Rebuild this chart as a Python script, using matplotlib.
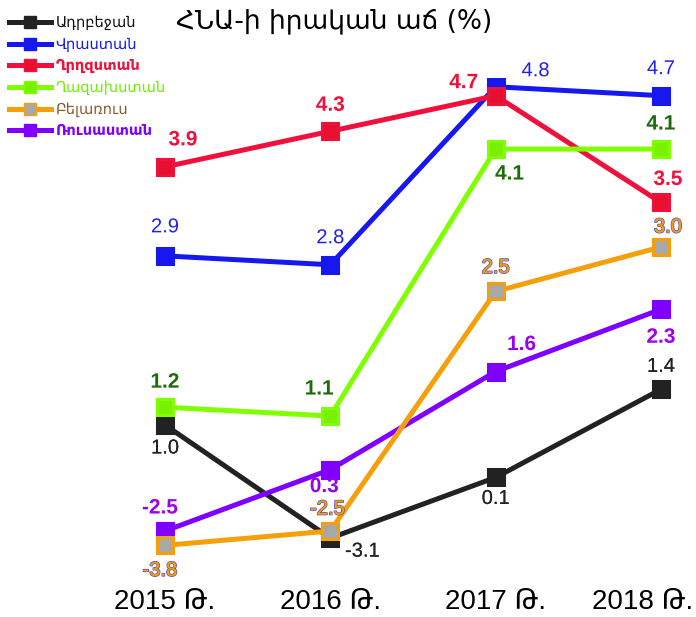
import numpy as np
import matplotlib.pyplot as plt
import matplotlib.patheffects as pe
import matplotlib.transforms as mtransforms
from matplotlib.lines import Line2D

plt.rcParams['font.family'] = ['Liberation Sans', 'DejaVu Sans']

years = ["2015 Թ.", "2016 Թ.", "2017 Թ.", "2018 Թ."]
countries = ["Ադրբեջան", "Վրաստան", "Ղրղզստան", "Ղազախստան", "Բելառուս", "Ռուսաստան"]

azerbaijan = [1.0, -3.1, 0.1, 1.4]
georgia = [2.9, 2.8, 4.8, 4.7]
kyrgyzstan = [3.9, 4.3, 4.7, 3.5]
kazakhstan = [1.2, 1.1, 4.1, 4.1]
belarus = [-3.8, -2.5, 2.5, 3.0]
russia = [-2.5, 0.3, 1.6, 2.3]

series = [azerbaijan, georgia, kyrgyzstan, kazakhstan, belarus, russia]

line_colors = ["#222222", "#1717f0", "#f0103c", "#80ff00", "#f5a00a", "#7f00ff"]
face_colors = ["#222222", "#1717f0", "#e8102f", "#78f000", "#a8a8a8", "#7f00ff"]
legend_text = ["#111111", "#1717f0", "#f0103c", "#70f000", "#8b5a2b", "#7f00ff"]
label_colors = ["#222222", "#2020f0", "#f0103c", "#1e6b0c", "#f0a000", "#9a00ee"]
label_bold = [False, False, True, True, False, True]

# label offsets in pixels (dx, dy), per series and year
offsets = [
    [(0, -23), (32, -13), (0, -21), (0, 23)],
    [(0, 29), (0, 27), (40, 16), (0, 27)],
    [(18, 27), (0, 26), (-32, 13), (7, 23)],
    [(0, 25), (-11, 27), (14, -25), (0, 25)],
    [(-5, -25), (-3, 22), (0, 24), (7, 20)],
    [(-5, 23), (-6, -17), (26, 27), (0, -28)],
]
draw_order = [0, 1, 5, 2, 3, 4]


def fwd(v):
    v = np.asarray(v, float)
    d = np.clip(1 - v, 0, None)
    return np.where(v >= 1, 89 * (v - 1), -51 * np.log1p(d / 0.5))


def inv(y):
    y = np.asarray(y, float)
    return np.where(y >= 0, 1 + y / 89, 1 - 0.5 * np.expm1(np.clip(-y, 0, None) / 51))


fig = plt.figure(figsize=(6.96, 6.17), dpi=100)
ax = fig.add_axes([0, 0, 1, 1])
ax.set_yscale('function', functions=(fwd, inv))

x = np.arange(len(years))
for i in draw_order:
    ax.plot(x, series[i], color=line_colors[i], lw=3.6, marker='s', ms=12,
            mfc=face_colors[i], mec=line_colors[i], mew=2.2, zorder=2 + draw_order.index(i))
    for j, val in enumerate(series[i]):
        dx, dy = offsets[i][j]
        if i == 0:
            effects = [pe.withStroke(linewidth=2, foreground='white')]
        elif i == 4:
            effects = [pe.withStroke(linewidth=1.2, foreground='#5a4ad0')]
        else:
            effects = []
        t = ax.annotate(f"{val:.1f}", (j, val), xytext=(dx * 0.72, dy * 0.72),
                        textcoords='offset points', ha='center', va='center',
                        fontsize=15 if label_bold[i] else 14.5,
                        fontweight='bold' if label_bold[i] else 'normal',
                        color=label_colors[i], zorder=20, annotation_clip=False)
        t.set_path_effects(effects + [pe.Normal()])

ax.set_xlim(-0.998, 3.212)
ax.set_ylim(-20.1, 5.775)
ax.set_yticks([])
ax.set_xticks(x)
ax.set_xticklabels(years, fontsize=20)
ax.tick_params(axis='x', length=0, pad=-20)
for s in ax.spines.values():
    s.set_visible(False)
ax.minorticks_off()

# last year label is pulled left so it stays inside the picture
last = ax.get_xticklabels()[-1]
last.set_transform(last.get_transform() +
                   mtransforms.ScaledTranslation(-0.18, 0, fig.dpi_scale_trans))

ax.text(0.48, 0.965, "ՀՆԱ-ի իրական աճ (%)", transform=ax.transAxes,
        ha='center', va='center', fontsize=19, family=['DejaVu Sans'])

leg_handles = [Line2D([], [], color=line_colors[i], lw=3.6, marker='s', ms=8,
                      mfc=face_colors[i], mec=line_colors[i]) for i in range(6)]
leg = ax.legend(leg_handles, countries, loc='upper left', bbox_to_anchor=(0.0, 0.99),
                frameon=False, handlelength=2.9, handletextpad=0.3,
                labelspacing=0.45, borderaxespad=0.2,
                prop={'family': ['DejaVu Sans'], 'size': 10.5})
for txt, c, b in zip(leg.get_texts(), legend_text, [False, False, True, False, False, True]):
    txt.set_color(c)
    if b:
        txt.set_fontweight('bold')

fig.savefig("out.png", dpi=100)
